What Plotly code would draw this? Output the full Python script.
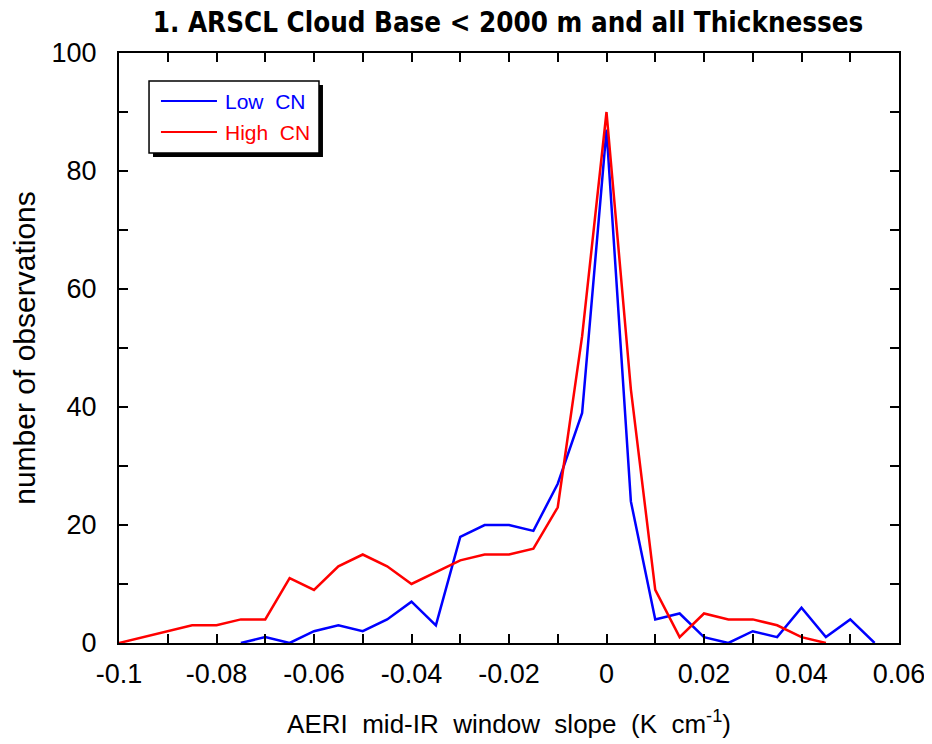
import plotly.graph_objects as go

# ---- data ----
low_x = [-0.075, -0.07, -0.065, -0.06, -0.055, -0.05, -0.045, -0.04, -0.035, -0.03,
         -0.025, -0.02, -0.015, -0.01, -0.005, 0.0, 0.005, 0.01, 0.015, 0.02,
         0.025, 0.03, 0.035, 0.04, 0.045, 0.05, 0.055]
low_y = [0, 1, 0, 2, 3, 2, 4, 7, 3, 18,
         20, 20, 19, 27, 39, 87, 24, 4, 5, 1,
         0, 2, 1, 6, 1, 4, 0]

high_x = [-0.1, -0.095, -0.09, -0.085, -0.08, -0.075, -0.07, -0.065, -0.06, -0.055,
          -0.05, -0.045, -0.04, -0.035, -0.03, -0.025, -0.02, -0.015, -0.01, -0.005,
          0.0, 0.005, 0.01, 0.015, 0.02, 0.025, 0.03, 0.035, 0.04, 0.045]
high_y = [0, 1, 2, 3, 3, 4, 4, 11, 9, 13,
          15, 13, 10, 12, 14, 15, 15, 16, 23, 52,
          90, 43, 9, 1, 5, 4, 4, 3, 1, 0]

x_tickvals = [-0.1, -0.08, -0.06, -0.04, -0.02, 0, 0.02, 0.04, 0.06]
x_ticktext = ["-0.1", "-0.08", "-0.06", "-0.04", "-0.02", "0", "0.02", "0.04", "0.06"]
y_tickvals = [0, 20, 40, 60, 80, 100]
y_ticktext = ["0", "20", "40", "60", "80", "100"]

series_names = ["Low  CN", "High  CN"]
series_colors = ["#0000ff", "#ff0000"]

FONT = "Liberation Sans, Arial, Helvetica, sans-serif"

fig = go.Figure()
fig.add_trace(go.Scatter(x=low_x, y=low_y, mode="lines", name=series_names[0],
                         line=dict(color=series_colors[0], width=2.5), showlegend=False))
fig.add_trace(go.Scatter(x=high_x, y=high_y, mode="lines", name=series_names[1],
                         line=dict(color=series_colors[1], width=2.5), showlegend=False))

axis_common = dict(showline=True, linecolor="black", linewidth=2, mirror="ticks",
                   ticks="inside", ticklen=9, tickwidth=1.5, tickcolor="black",
                   showgrid=False, zeroline=False, automargin=False,
                   tickfont=dict(family=FONT, size=27, color="black"))

fig.update_xaxes(range=[-0.1, 0.06], tickvals=x_tickvals, ticktext=x_ticktext,
                 minor=dict(dtick=0.01, tick0=0, ticks="inside", ticklen=9, tickwidth=1.5,
                            tickcolor="black", showgrid=False),
                 ticklabelstandoff=6,
                 title=dict(text="AERI  mid-IR  window  slope  (K  cm<sup>-1</sup>)",
                            font=dict(family=FONT, size=26, color="black"), standoff=26),
                 **axis_common)
fig.update_yaxes(range=[0, 100], tickvals=y_tickvals, ticktext=y_ticktext,
                 minor=dict(dtick=10, tick0=0, ticks="inside", ticklen=9, tickwidth=1.5,
                            tickcolor="black", showgrid=False),
                 ticklabelstandoff=15,
                 title=dict(text="number of observations",
                            font=dict(family=FONT, size=30, color="black"), standoff=16),
                 **axis_common)

# manual legend box with drop shadow
shapes = [
    dict(type="rect", xref="paper", yref="paper", x0=0.0436, x1=0.2615, y0=0.8237, y1=0.9458,
         fillcolor="black", line=dict(width=0), layer="above"),
    dict(type="rect", xref="paper", yref="paper", x0=0.0385, x1=0.2564, y0=0.8305, y1=0.9525,
         fillcolor="white", line=dict(color="black", width=1.5), layer="above"),
]
legend_y = [0.9186, 0.8661]
for name, color, yy in zip(series_names, series_colors, legend_y):
    shapes.append(dict(type="line", xref="paper", yref="paper", x0=0.0538, x1=0.1256,
                       y0=yy, y1=yy, line=dict(color=color, width=2), layer="above"))
    fig.add_annotation(xref="paper", yref="paper", x=0.1333, y=yy, xanchor="left",
                       yanchor="middle", text=name, showarrow=False,
                       font=dict(family=FONT, size=21, color=color))
fig.update_layout(shapes=shapes)

fig.update_layout(
    width=932, height=744,
    margin=dict(l=111, r=41, t=45, b=109),
    paper_bgcolor="white", plot_bgcolor="white",
    title=dict(text="<b>1. ARSCL Cloud Base &lt; 2000 m and all Thicknesses</b>",
               font=dict(family="Liberation Sans Narrow, DejaVu Sans Condensed, Arial, sans-serif",
                         size=27.5, color="black"),
               x=0.5365, xanchor="center", y=0.981, yanchor="middle"),
    showlegend=False,
)

fig.write_html("out.html")
